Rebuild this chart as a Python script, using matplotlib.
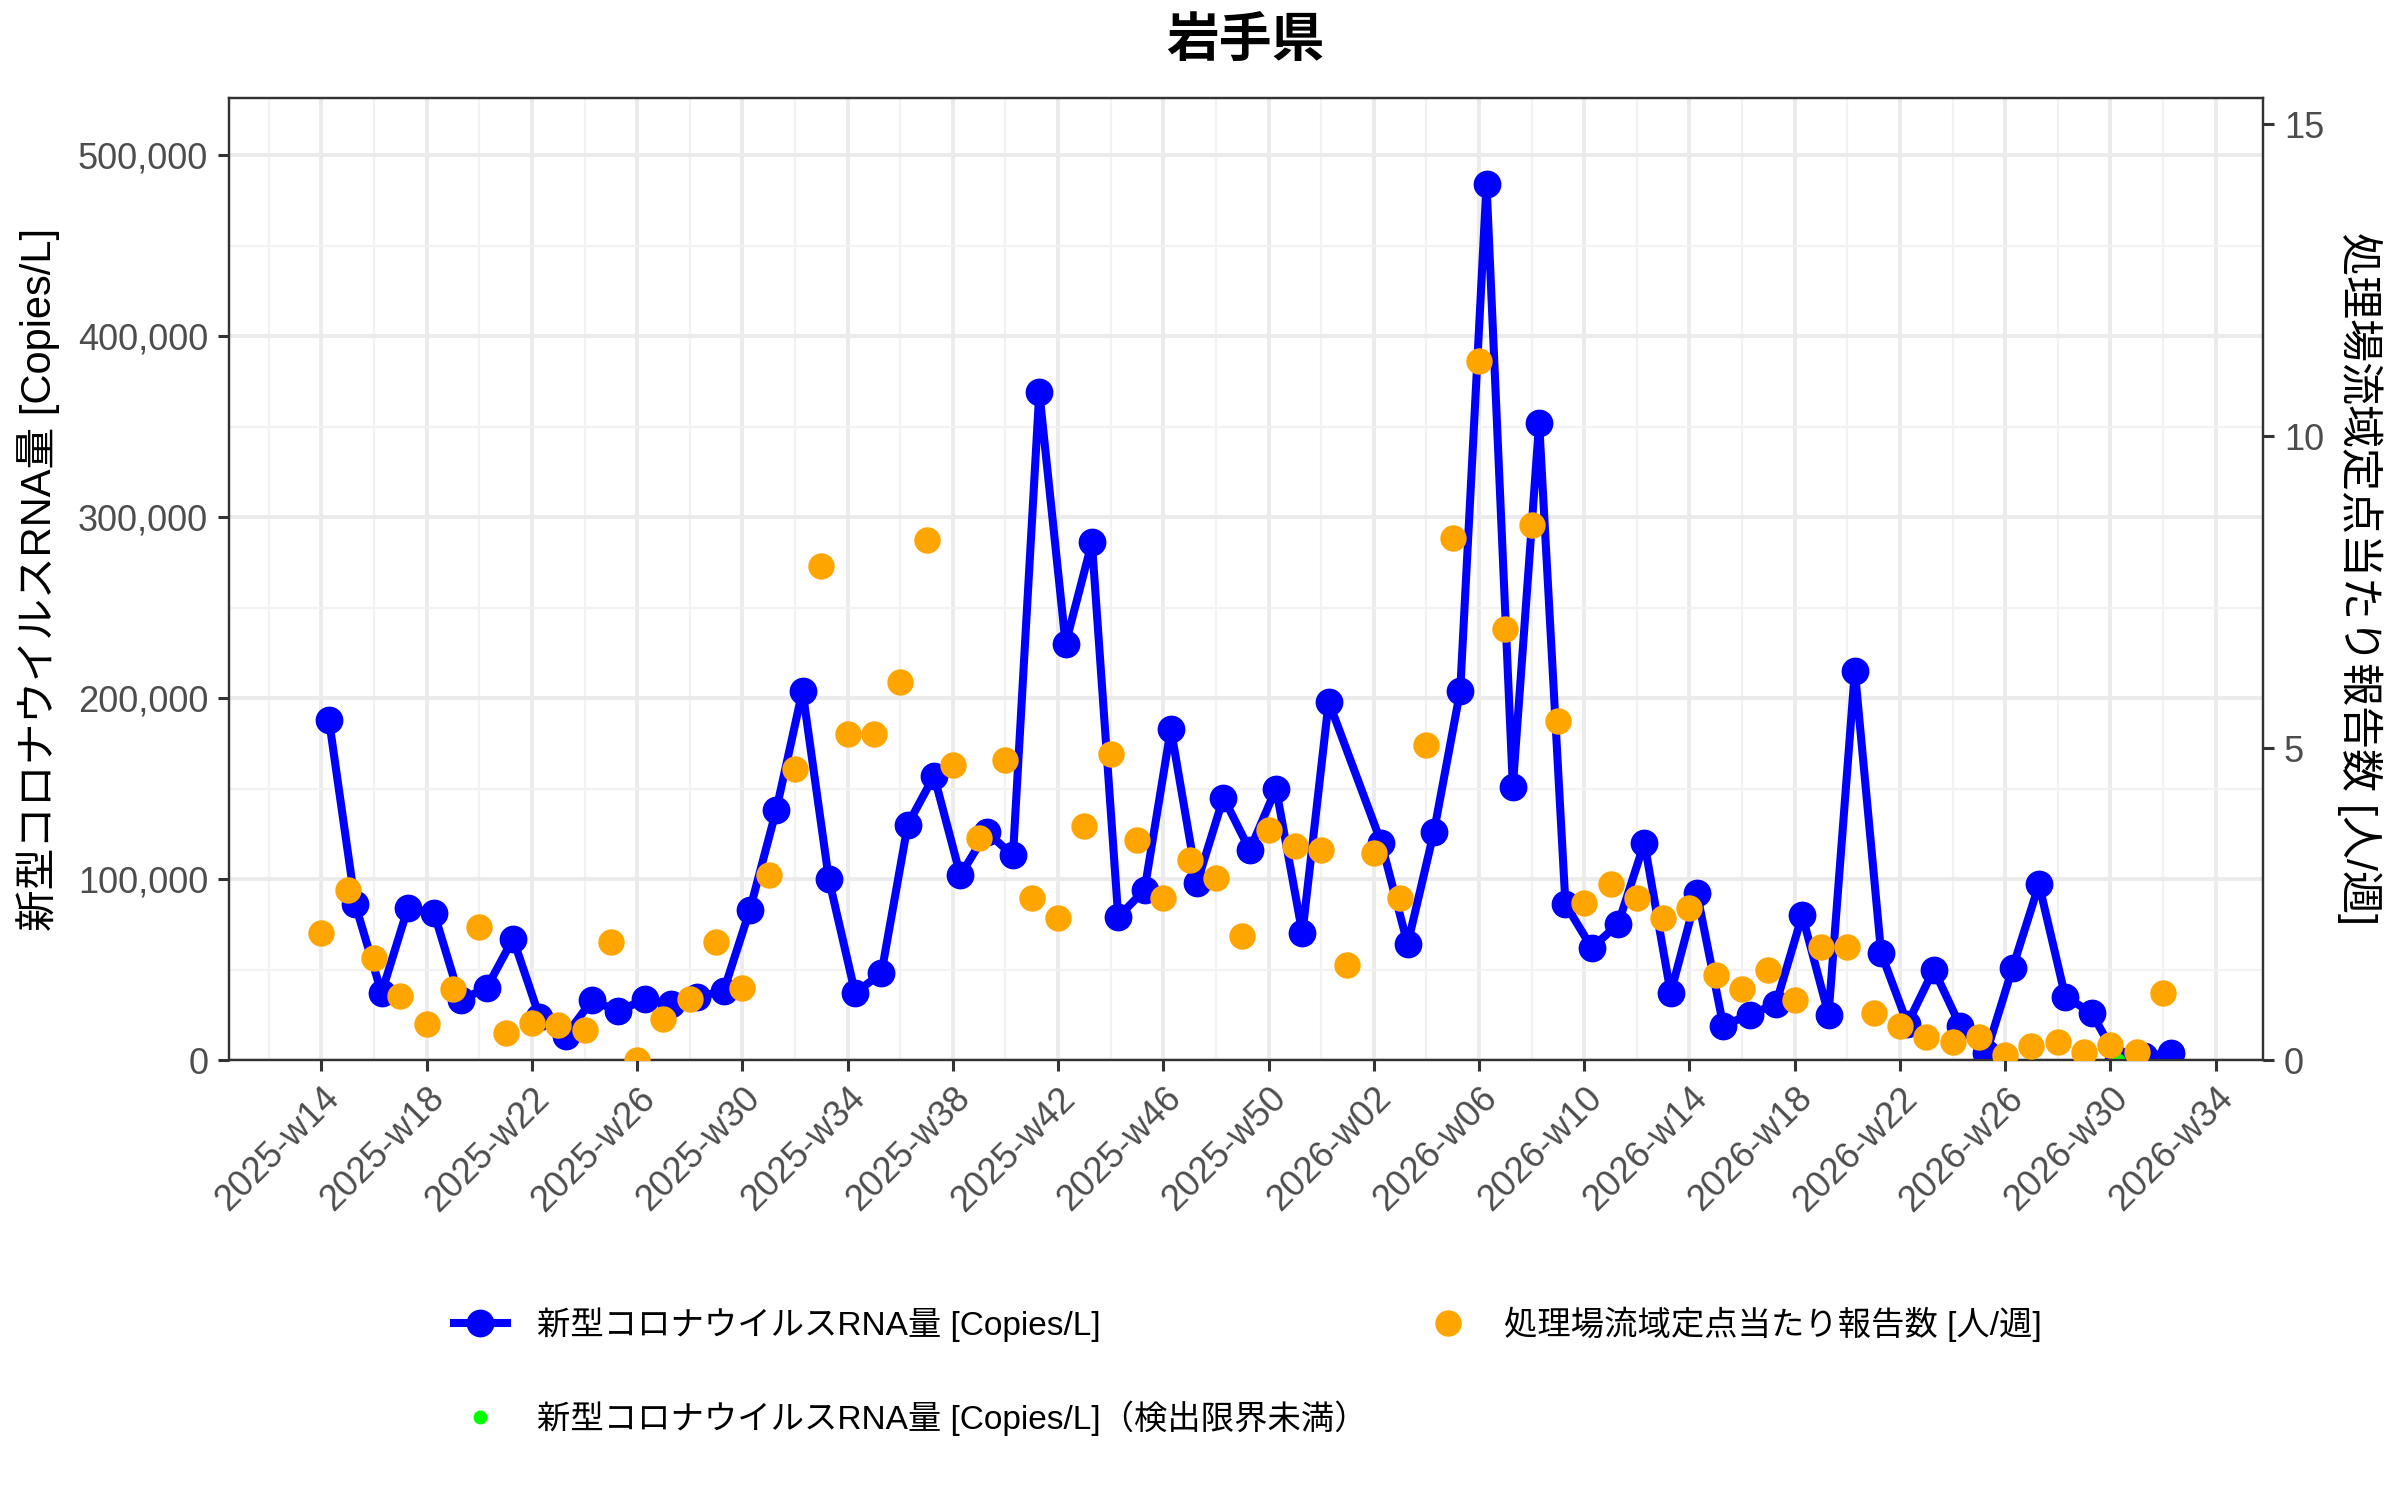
import datetime as dt
import matplotlib
matplotlib.use("Agg")
import matplotlib.pyplot as plt
import matplotlib.dates as mdates
from matplotlib.lines import Line2D
from matplotlib.ticker import FuncFormatter, MultipleLocator, FixedLocator

plt.rcParams['font.family'] = ['Liberation Sans', 'Noto Sans CJK JP']

title = '岩手県'
rna_label = '新型コロナウイルスRNA量 [Copies/L]'
report_label = '処理場流域定点当たり報告数 [人/週]'
below_label = '新型コロナウイルスRNA量 [Copies/L]（検出限界未満）'

# Wastewater samples (ISO weeks), no sample in 2026-w01.
rna_weeks = [(2025, w) for w in range(14, 53)] + [(2026, w) for w in range(2, 33)]
rna_values = [
    188000, 86000, 37000, 84000, 81000, 33000, 40000, 67000, 24000, 13500,
    33000, 27000, 33500, 31000, 35000, 38000, 83000, 138000, 204000, 100000,
    37000, 48000, 130000, 157000, 102000, 126000, 113000, 369000, 230000, 286000,
    79000, 94000, 183000, 98000, 145000, 116000, 150000, 70000, 198000,
    120000, 64000, 126000, 204000, 484000, 151000, 352000, 86000, 62000, 75000,
    120000, 37000, 92000, 19000, 25000, 31000, 80000, 25000, 215000, 59000,
    20000, 50000, 19000, 4000, 51000, 97000, 35000, 26000, 0, 2000, 4000,
]
# Samples below the detection limit.
below_weeks = [(2026, 30)]
below_values = [0]

# Reports per sentinel site in the catchment.
report_weeks = [(2025, w) for w in range(14, 53)] + [(2026, w) for w in range(1, 33)]
report_values = [
    2.03, 2.72, 1.64, 1.03, 0.57, 1.13, 2.13, 0.44, 0.60, 0.56,
    0.48, 1.89, 0.0, 0.66, 0.98, 1.89, 1.15, 2.97, 4.66, 7.92,
    5.22, 5.22, 6.05, 8.33, 4.73, 3.55, 4.80, 2.60, 2.28, 3.75,
    4.90, 3.53, 2.60, 3.21, 2.92, 1.99, 3.68, 3.43, 3.36,
    1.52, 3.31, 2.60, 5.05, 8.36, 11.2, 6.91, 8.58, 5.44, 2.52,
    2.82, 2.60, 2.28, 2.43, 1.37, 1.13, 1.45, 0.96, 1.81, 1.81,
    0.76, 0.54, 0.37, 0.29, 0.37, 0.08, 0.22, 0.29, 0.13, 0.24,
    0.13, 1.07,
]

# scale between the two y axes
sec_scale = 34475
y_top = 531500


def wed(yw):
    return dt.date.fromisocalendar(yw[0], yw[1], 3)


def mon(yw):
    return dt.date.fromisocalendar(yw[0], yw[1], 1)


rna_x = [wed(w) for w in rna_weeks]
below_x = [wed(w) for w in below_weeks]
report_x = [mon(w) for w in report_weeks]

fig = plt.figure(figsize=(12, 7.5), dpi=200)
ax = fig.add_axes([229 / 2400, 1 - 1060 / 1500, (2263 - 229) / 2400, (1060 - 98) / 1500])

ax.plot(rna_x, rna_values, color='blue', lw=2.9, marker='o', ms=9, zorder=3)
ax.plot(below_x, below_values, ls='none', color='#00FF00', marker='o', ms=4, zorder=4)

ax.set_ylim(0, y_top)
ax.margins(x=0.05)
ax.yaxis.set_major_locator(MultipleLocator(100000))
ax.yaxis.set_minor_locator(MultipleLocator(50000))
ax.yaxis.set_major_formatter(FuncFormatter(lambda v, p: f'{int(v):,}'))

# x ticks every 4 weeks from 2025-w14
first = mon((2025, 14))
major = [first + dt.timedelta(weeks=4 * k) for k in range(-1, 20)]
minor = [first + dt.timedelta(weeks=4 * k + 2) for k in range(-2, 20)]
ax.xaxis.set_major_locator(FixedLocator(mdates.date2num(major)))
ax.xaxis.set_minor_locator(FixedLocator(mdates.date2num(minor)))


def week_fmt(v, p):
    d = mdates.num2date(v).date()
    y, w, _ = d.isocalendar()
    return f'{y}-w{w:02d}'


ax.xaxis.set_major_formatter(FuncFormatter(week_fmt))
plt.setp(ax.get_xticklabels(), rotation=45, ha='right', rotation_mode='anchor')

ax.grid(which='major', color='#EBEBEB', lw=1.4)
ax.grid(which='minor', color='#F2F2F2', lw=0.8)
ax.set_axisbelow(True)

ax2 = ax.twinx()
ax2.plot(report_x, report_values, ls='none', color='orange', marker='o', ms=8.5, zorder=3)
ax2.set_ylim(0, y_top / sec_scale)
ax2.yaxis.set_major_locator(MultipleLocator(5))

for a in (ax, ax2):
    for s in a.spines.values():
        s.set_color('#333333')
        s.set_linewidth(0.8)
    a.tick_params(which='major', length=4, width=1.1, color='#333333',
                  labelsize=13, labelcolor='#4D4D4D')
    a.tick_params(which='minor', length=0)

fig.text(0.519, 1 - 43 / 1500, title, ha='center', va='center',
         fontsize=19, fontweight='bold')
fig.text(38 / 2400, 1 - 579 / 1500, rna_label, rotation=90,
         ha='center', va='center', fontsize=15)
fig.text(2360 / 2400, 1 - 579 / 1500, report_label, rotation=-90,
         ha='center', va='center', fontsize=15.5)

handles = [
    Line2D([], [], color='blue', lw=2.9, marker='o', ms=9),
    Line2D([], [], ls='none', color='#00FF00', marker='o', ms=4),
    Line2D([], [], ls='none', color='orange', marker='o', ms=8.5),
]
fig.legend(handles, [rna_label, below_label, report_label], ncol=2,
           loc='upper left', bbox_to_anchor=(0.1765, 0.149), frameon=False,
           fontsize=12, handlelength=1.6, handletextpad=0.9,
           columnspacing=1.6, labelspacing=1.75)

fig.savefig('out.png', dpi=200)
